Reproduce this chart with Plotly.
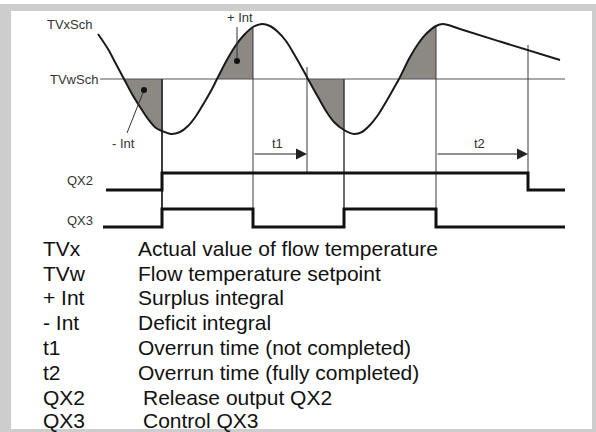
import plotly.graph_objects as go

# Flow temperature curve (time, value) in diagram units
curve_t = [98, 108, 116, 124, 132, 140, 148, 156, 162, 171, 180, 188, 196, 204,
           212, 217, 228, 236, 244, 253, 262, 270, 278, 286, 294, 302, 308, 318,
           326, 334, 344, 354, 362, 370, 378, 386, 394, 399, 410, 418, 426, 436,
           443, 460, 500, 560]
curve_v = [34, 49, 64, 79, 94, 107, 119, 128, 131, 134, 132, 126, 116, 103,
           89, 79, 58, 45, 35, 27, 24, 26, 32, 41, 54, 68, 79, 97,
           111, 122, 130, 134, 132, 125, 115, 102, 88, 79, 57, 44, 34, 26,
           24, 29, 41.5, 60]

setpoint = 79
setpoint_span = [100, 565]

# Integral areas between setpoint crossing and switching instant
int_regions = [(124, 162), (217, 253), (308, 344), (399, 436)]

# Switching instants: time, upper end, lower end, line width
switch_t = [162, 253, 307, 344, 436, 528]
switch_top = [79, 27, 67, 79, 26, 45]
switch_bot = [227, 227, 173, 227, 227, 190]
switch_w = [2, 1, 1, 1.5, 1, 1]

# Output states (step signals)
qx2_t = [106, 162, 528, 565]
qx2_s = [0, 1, 0, 0]
qx3_t = [103, 162, 253, 344, 436, 565]
qx3_s = [0, 1, 0, 1, 0, 0]
qx2_levels = {0: 190, 1: 173}
qx3_levels = {0: 227, 1: 209}

# Overrun timers
timers = [("t1", 253, 307), ("t2", 436, 528)]
timer_y = 154

legend_keys = ["TVx", "TVw", "+ Int", "- Int", "t1", "t2", "QX2", "QX3"]
legend_desc = ["Actual value of flow temperature", "Flow temperature setpoint",
               "Surplus integral", "Deficit integral", "Overrun time (not completed)",
               "Overrun time (fully completed)", "Release output QX2", "Control QX3"]
legend_x = [136, 136, 136, 136, 136, 136, 141, 141]
legend_y = [248, 273, 297, 322, 347, 372, 397, 420]

FONT = "Liberation Sans, Arial, sans-serif"
fig = go.Figure()

# shaded integral areas
for t0, t1 in int_regions:
    xs = [t for t in curve_t if t0 <= t <= t1]
    ys = [v for t, v in zip(curve_t, curve_v) if t0 <= t <= t1]
    fig.add_trace(go.Scatter(x=[t0, t1], y=[setpoint, setpoint], mode="lines",
                             line=dict(width=0), hoverinfo="skip", showlegend=False))
    fig.add_trace(go.Scatter(x=xs, y=ys, mode="lines", line=dict(width=0, shape="spline"),
                             fill="tonexty", fillcolor="#8c8883",
                             hoverinfo="skip", showlegend=False))

# setpoint line
fig.add_trace(go.Scatter(x=setpoint_span, y=[setpoint, setpoint], mode="lines",
                         line=dict(color="#555555", width=1.2), showlegend=False))

# switching verticals
for t, a, b, w in zip(switch_t, switch_top, switch_bot, switch_w):
    fig.add_trace(go.Scatter(x=[t, t], y=[a, b], mode="lines",
                             line=dict(color="#3a3a3a", width=w), showlegend=False))

# temperature curve
fig.add_trace(go.Scatter(x=curve_t, y=curve_v, mode="lines",
                         line=dict(color="#1a1a1a", width=2, shape="spline"),
                         showlegend=False))

# output step signals
fig.add_trace(go.Scatter(x=qx2_t, y=[qx2_levels[s] for s in qx2_s], mode="lines",
                         line=dict(color="#111111", width=3, shape="hv"), showlegend=False))
fig.add_trace(go.Scatter(x=qx3_t, y=[qx3_levels[s] for s in qx3_s], mode="lines",
                         line=dict(color="#111111", width=3, shape="hv"), showlegend=False))

# leader lines with dots for the integral labels
fig.add_trace(go.Scatter(x=[127, 144], y=[133, 90], mode="lines",
                         line=dict(color="#333333", width=1), showlegend=False))
fig.add_trace(go.Scatter(x=[237, 237], y=[27, 61], mode="lines",
                         line=dict(color="#333333", width=1), showlegend=False))
fig.add_trace(go.Scatter(x=[144, 237], y=[90, 61], mode="markers",
                         marker=dict(color="#111111", size=6), showlegend=False))

small = dict(family=FONT, size=13, color="#333333")
ann = []
for name, a, b in timers:
    ann.append(dict(x=b, y=timer_y, ax=a, ay=timer_y, xref="x", yref="y",
                    axref="x", ayref="y", showarrow=True, arrowhead=2,
                    arrowsize=2, arrowwidth=1.1, arrowcolor="#222222", text=""))
    ann.append(dict(x=(a + b) / 2 - 3, y=143, text=name, showarrow=False, font=small))

ann += [
    dict(x=95, y=24, text="TVxSch", showarrow=False, xanchor="right", font=small),
    dict(x=100, y=79, text="TVwSch", showarrow=False, xanchor="right", font=small),
    dict(x=123, y=143, text="- Int", showarrow=False, font=small),
    dict(x=240, y=17, text="+ Int", showarrow=False, font=small),
    dict(x=95, y=180, text="QX2", showarrow=False, xanchor="right", font=small),
    dict(x=95, y=220, text="QX3", showarrow=False, xanchor="right", font=small),
]

big = dict(family=FONT, size=21, color="#111111")
for k, d, x, y in zip(legend_keys, legend_desc, legend_x, legend_y):
    ann.append(dict(x=41, y=y, text=k, showarrow=False, xanchor="left", font=big))
    ann.append(dict(x=x, y=y, text=d, showarrow=False, xanchor="left", font=big))

fig.update_layout(
    width=596, height=432, margin=dict(l=0, r=0, t=0, b=0),
    paper_bgcolor="white", plot_bgcolor="white",
    xaxis=dict(range=[0, 596], visible=False, fixedrange=True),
    yaxis=dict(range=[432, 0], visible=False, fixedrange=True),
    annotations=ann,
    shapes=[
        dict(type="rect", xref="x", yref="y", x0=0, y0=4, x1=596, y1=432,
             fillcolor="#cdcdcd", line=dict(width=0), layer="below"),
        dict(type="rect", xref="x", yref="y", x0=11, y0=11, x1=592, y1=429,
             fillcolor="white", line=dict(width=0), layer="below"),
    ],
)

fig.write_html("out.html")
